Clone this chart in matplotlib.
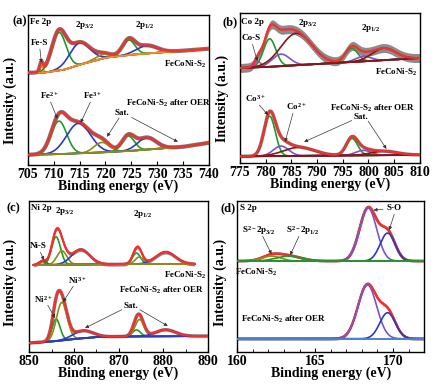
import numpy as np
import matplotlib
matplotlib.use("Agg")
import matplotlib.pyplot as plt

plt.rcParams['font.family'] = ['Liberation Serif', 'DejaVu Serif']
plt.rcParams['font.weight'] = 'bold'
plt.rcParams['mathtext.fontset'] = 'custom'
plt.rcParams['mathtext.rm'] = 'Liberation Serif:bold'
plt.rcParams['mathtext.it'] = 'Liberation Serif:bold'
plt.rcParams['mathtext.bf'] = 'Liberation Serif:bold'

# ---------------- data ----------------
# colours
RED, GREEN, BLUE, OLIVE = '#ff2a2a', '#1f9a2a', '#2b3bbd', '#8f8a1c'
ORANGE, MAROON, PURPLE, PINK = '#ff8a1e', '#8a1414', '#7c55c4', '#d23fc4'
LBLUE, GREY = '#4d7fd6', '#777777'

# (a) Fe 2p
fe_range = (705, 740)
fe_top_bg_x = [705, 708, 712, 715, 720, 725, 730, 740]
fe_top_bg_y = [92, 92, 95, 100, 107, 110, 112, 116]
fe_top_c = [707.6, 711.0, 715.0, 719.5, 724.5, 728.0]
fe_top_h = [9, 38, 22, 4, 15, 8]
fe_top_s = [0.3, 1.4, 2.0, 1.5, 1.2, 2.0]
fe_top_col = [ORANGE, GREEN, BLUE, OLIVE, GREEN, BLUE]

fe_bot_bg_x = [705, 710, 715, 720, 725, 730, 735, 740]
fe_bot_bg_y = [10, 10.5, 11.5, 12.5, 14, 16, 18, 22]
fe_bot_c = [711.0, 714.8, 719.3, 724.4, 728.0]
fe_bot_h = [33, 30, 10, 15, 12]
fe_bot_s = [1.5, 2.3, 1.5, 1.2, 1.8]
fe_bot_col = [GREEN, BLUE, OLIVE, GREEN, BLUE]

# (b) Co 2p
co_range = (775, 810)
co_top_bg_x = [775, 780, 785, 790, 795, 800, 805, 810]
co_top_bg_y = [95, 96, 97.5, 99, 100.5, 102, 103.5, 105]
co_top_c = [778.5, 780.8, 783.0, 786.0, 796.7, 799.0, 803.0]
co_top_h = [6, 28, 12, 32, 14, 5, 12]
co_top_s = [0.6, 1.2, 1.7, 3.0, 1.2, 1.5, 2.3]
co_top_col = [PINK, GREEN, PURPLE, MAROON, GREEN, PURPLE, MAROON]

co_bot_bg_x = [775, 790, 810]
co_bot_bg_y = [6.5, 7.2, 8]
co_bot_c = [780.8, 783.0, 786.5, 796.8, 799.0, 803.0]
co_bot_h = [40, 10, 8.5, 17, 5, 4]
co_bot_s = [1.1, 1.5, 3.0, 1.1, 1.5, 2.5]
co_bot_col = [GREEN, PURPLE, MAROON, GREEN, PURPLE, MAROON]

# (c) Ni 2p
ni_range = (850, 890)
ni_top_range = (851, 887)
ni_top_bg_x = [851, 860, 870, 880, 887]
ni_top_bg_y = [87, 87.5, 88, 88, 88]
ni_top_c = [853.0, 856.0, 857.3, 861.5, 874.0, 874.6, 880.5]
ni_top_h = [4, 28, 14, 15, 11, 7, 12]
ni_top_s = [0.8, 1.0, 1.1, 2.0, 0.9, 0.9, 2.2]
ni_top_col = [BLUE, GREEN, OLIVE, BLUE, GREEN, OLIVE, BLUE]

ni_bot_bg_x = [850, 855, 860, 865, 870, 890]
ni_bot_bg_y = [9, 10.5, 13, 15, 15.5, 16]
ni_bot_c = [856.0, 857.3, 862.0, 874.0, 874.7, 880.5]
ni_bot_h = [22, 38, 7.5, 6.5, 17, 6.5]
ni_bot_s = [0.9, 1.2, 2.2, 0.9, 1.0, 2.2]
ni_bot_col = [GREEN, OLIVE, BLUE, GREEN, OLIVE, BLUE]

# (d) S 2p
s_range = (160, 172)
s_top_bg_x = [160, 172]
s_top_bg_y = [91, 91]
s_top_c = [162.2, 163.3, 168.4, 169.65]
s_top_h = [5, 5, 53, 28]
s_top_s = [0.6, 0.8, 0.55, 0.48]
s_top_col = [OLIVE, GREEN, PURPLE, BLUE]

s_bot_bg_x = [160, 172]
s_bot_bg_y = [13.3, 13.3]
s_bot_c = [168.35, 169.65]
s_bot_h = [54, 26]
s_bot_s = [0.6, 0.5]
s_bot_col = [PURPLE, BLUE]

# ---------------- figure ----------------
fig = plt.figure(figsize=(4.36, 3.86), dpi=100)
axA = fig.add_axes([0.064, 0.573, 0.415, 0.389])
axB = fig.add_axes([0.550, 0.578, 0.413, 0.388])
axC = fig.add_axes([0.067, 0.088, 0.410, 0.391])
axD = fig.add_axes([0.544, 0.088, 0.429, 0.391])


def spectrum(ax, xr, bgx, bgy, cs, hs, ss, cols, bgcol, band=0.0, glw=2.5,
             red_first=False, npts=800):
    x = np.linspace(xr[0], xr[1], npts)
    bg = np.interp(x, bgx, bgy)
    comps = []
    for c, h, s in zip(cs, hs, ss):
        comps.append(h * np.exp(-(x - c) ** 2 / (2 * s ** 2)))
    env = bg + np.sum(comps, axis=0)
    if band > 0:
        ax.fill_between(x, env - band, env + band, color=GREY, lw=0, zorder=1,
                        alpha=0.85)
    ax.plot(x, env, color=GREY, lw=glw, zorder=1)
    zr = 2 if red_first else 4
    ax.plot(x, env, color=RED, lw=1.8 if red_first else 1.5, zorder=zr)
    for comp, col in zip(comps, cols):
        ax.plot(x, bg + comp, color=col, lw=1.2, zorder=3)
    ax.plot(x, bg, color=bgcol, lw=1.4, zorder=3)


spectrum(axA, fe_range, fe_top_bg_x, fe_top_bg_y, fe_top_c, fe_top_h, fe_top_s,
         fe_top_col, ORANGE, band=0.0, glw=3)
spectrum(axA, fe_range, fe_bot_bg_x, fe_bot_bg_y, fe_bot_c, fe_bot_h, fe_bot_s,
         fe_bot_col, OLIVE, band=0.0, glw=3)
spectrum(axB, co_range, co_top_bg_x, co_top_bg_y, co_top_c, co_top_h, co_top_s,
         co_top_col, MAROON, band=4.5, glw=1.5)
spectrum(axB, co_range, co_bot_bg_x, co_bot_bg_y, co_bot_c, co_bot_h, co_bot_s,
         co_bot_col, MAROON, band=0.0, glw=2.5)
spectrum(axC, ni_top_range, ni_top_bg_x, ni_top_bg_y, ni_top_c, ni_top_h,
         ni_top_s, ni_top_col, OLIVE, band=2.0, glw=1.5)
spectrum(axC, ni_range, ni_bot_bg_x, ni_bot_bg_y, ni_bot_c, ni_bot_h, ni_bot_s,
         ni_bot_col, BLUE, band=0.0, glw=2.5)
spectrum(axD, s_range, s_top_bg_x, s_top_bg_y, s_top_c, s_top_h, s_top_s,
         s_top_col, GREEN, band=0.0, glw=2, red_first=True)
spectrum(axD, s_range, s_bot_bg_x, s_bot_bg_y, s_bot_c, s_bot_h, s_bot_s,
         s_bot_col, LBLUE, band=1.5, glw=1.5, red_first=True)

setup = [
    (axA, fe_range, np.arange(705, 741, 5), 150, None),
    (axB, co_range, np.arange(775, 811, 5), 150, None),
    (axC, ni_range, np.arange(850, 891, 10), 151, 5),
    (axD, s_range, [160, 165, 170], 151, 1),
]
for ax, xr, ticks, ymax, minor in setup:
    ax.set_xlim(*xr)
    ax.set_ylim(0, ymax)
    ax.set_xticks(ticks)
    if minor:
        ax.xaxis.set_minor_locator(matplotlib.ticker.MultipleLocator(minor))
    ax.set_yticks([])
    ax.tick_params(axis='x', direction='in', length=3, width=0.8, labelsize=10,
                   pad=2)
    ax.tick_params(axis='x', which='minor', direction='in', length=2, width=0.6)
    for lab in ax.get_xticklabels():
        lab.set_fontweight('bold')
    for sp in ax.spines.values():
        sp.set_linewidth(1.0)
    ax.set_xlabel('Binding energy (eV)', fontsize=10, fontweight='bold', labelpad=-1)
    ax.set_ylabel('Intensity (a.u.)', fontsize=10, fontweight='bold')

axA.yaxis.set_label_coords(-0.06, 0.43)
axB.yaxis.set_label_coords(-0.06, 0.43)
axC.yaxis.set_label_coords(-0.067, 0.46)
axD.yaxis.set_label_coords(-0.053, 0.46)

AP = dict(arrowstyle='-|>', lw=0.5, color='#333333', mutation_scale=5,
          shrinkA=1, shrinkB=0)
TS = 6.5


def t(ax, x, y, s, size=TS, ha='center'):
    ax.text(x, y, s, fontsize=size, fontweight='bold', ha=ha, va='center',
            clip_on=False, zorder=6)


def arr(ax, xy_text, xy):
    ax.annotate('', xy=xy, xytext=xy_text, arrowprops=AP, zorder=6)


# (a)
t(axA, 703.4, 143, '(a)', size=9)
t(axA, 705.4, 143, 'Fe 2p', ha='left')
t(axA, 716.0, 140, '2p$_{3/2}$')
t(axA, 727.6, 140, '2p$_{1/2}$')
t(axA, 707.3, 122, 'Fe-S')
arr(axA, (707.3, 117), (707.6, 102))
t(axA, 735.4, 100, 'FeCoNi-S$_2$')
t(axA, 709.1, 69, 'Fe$^{2+}$')
arr(axA, (709.3, 64), (710.7, 46))
t(axA, 717.6, 69, 'Fe$^{3+}$')
arr(axA, (717.2, 64), (715.2, 42))
t(axA, 732.3, 61, 'FeCoNi-S$_2$ after OER')
t(axA, 723.2, 52, 'Sat.')
arr(axA, (722.8, 48), (720.3, 28))
arr(axA, (724.8, 48), (734.0, 23))

# (b)
t(axB, 773.2, 141, '(b)', size=9)
t(axB, 775.3, 141, 'Co 2p', ha='left')
t(axB, 788.2, 140, '2p$_{3/2}$')
t(axB, 800.5, 135, '2p$_{1/2}$')
t(axB, 777.1, 125, 'Co-S')
arr(axB, (777.4, 120), (778.4, 102))
t(axB, 805.5, 91, 'FeCoNi-S$_2$')
t(axB, 778.1, 64, 'Co$^{3+}$')
arr(axB, (778.6, 59), (780.5, 48))
t(axB, 785.9, 56, 'Co$^{2+}$')
arr(axB, (785.4, 51), (783.8, 21))
t(axB, 800.9, 55, 'FeCoNi-S$_2$ after OER')
t(axB, 798.5, 46, 'Sat.')
arr(axB, (797.0, 43), (787.5, 21))
arr(axB, (799.8, 43), (803.5, 14))

# (c)
t(axC, 846.4, 144, '(c)', size=9)
t(axC, 850.3, 144, 'Ni 2p', ha='left')
t(axC, 858.0, 141, '2p$_{3/2}$')
t(axC, 875.5, 138, '2p$_{1/2}$')
t(axC, 852.0, 106, 'Ni-S')
arr(axC, (852.4, 101), (853.3, 92))
t(axC, 884.9, 77, 'FeCoNi-S$_2$')
t(axC, 879.7, 62, 'FeCoNi-S$_2$ after OER')
t(axC, 860.7, 72, 'Ni$^{3+}$')
arr(axC, (860.0, 67), (857.6, 50))
t(axC, 853.1, 53, 'Ni$^{2+}$')
arr(axC, (854.0, 48), (855.8, 34))
t(axC, 872.8, 46, 'Sat.')
arr(axC, (871.0, 43), (862.5, 24))
arr(axC, (874.5, 43), (881.0, 26))

# (d)
t(axD, 159.4, 144, '(d)', size=9)
t(axD, 160.2, 144, 'S 2p', ha='left')
t(axD, 161.4, 122, 'S$^{2-}$2p$_{3/2}$')
arr(axD, (161.6, 117), (162.2, 98))
t(axD, 164.2, 122, 'S$^{2-}$2p$_{1/2}$')
arr(axD, (164.0, 117), (163.4, 97))
t(axD, 170.1, 144, 'S-O')
arr(axD, (169.45, 143), (168.75, 142))
arr(axD, (170.1, 139), (169.75, 122))
t(axD, 161.2, 80, 'FeCoNi-S$_2$')
t(axD, 163.0, 33, 'FeCoNi-S$_2$ after OER')

fig.savefig('out.png', dpi=100)
